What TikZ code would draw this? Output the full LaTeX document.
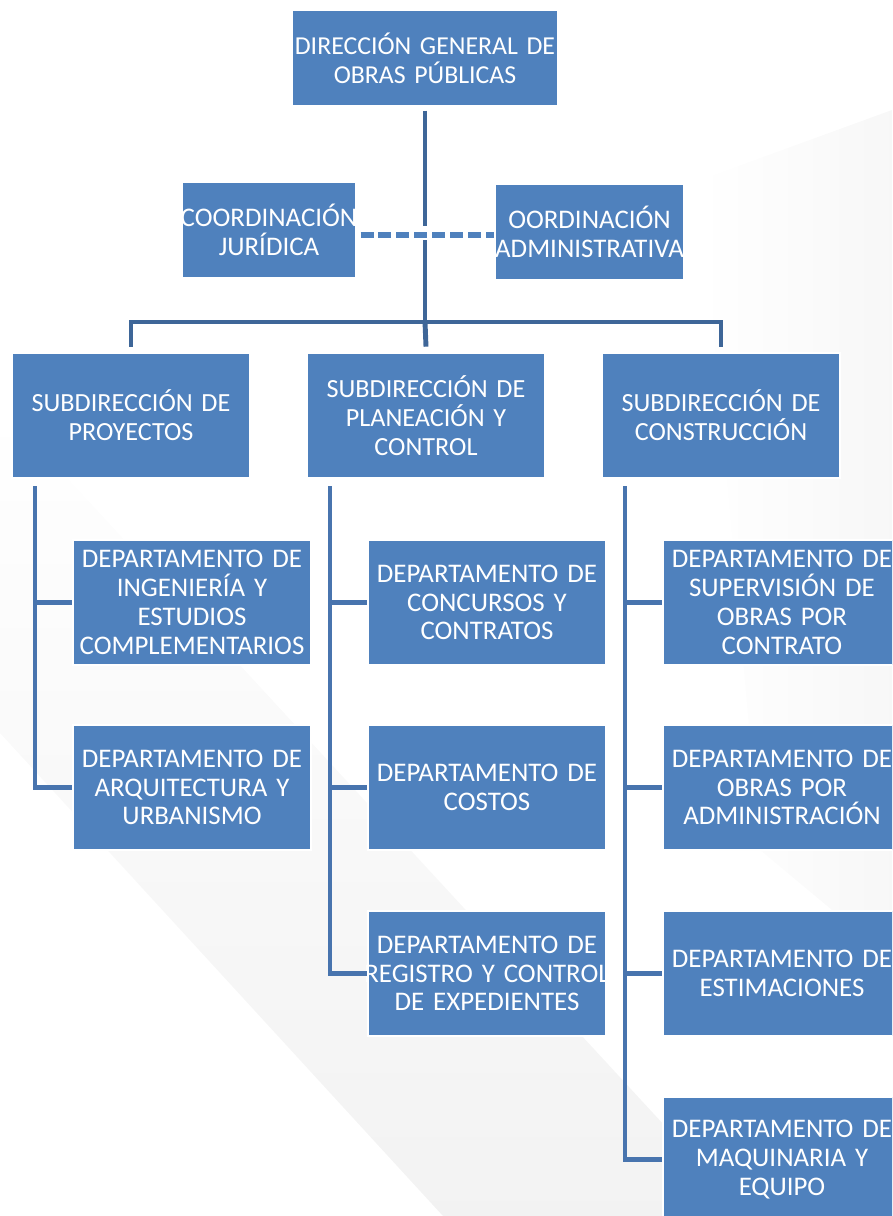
\documentclass[tikz,border=0pt]{standalone}
\usepackage{fontspec}
\setmainfont{Carlito}
\definecolor{boxblue}{RGB}{79,129,189}
\definecolor{lineblue}{RGB}{62,102,152}
\definecolor{treeblue}{RGB}{72,116,174}

\begin{document}
\begin{tikzpicture}[x=0.02cm, y=-0.02cm,
    unit/.style={draw=white, line width=1.2pt, fill=boxblue, text=white, align=center,
        inner ysep=0pt, inner xsep=-0.3cm, font=\fontsize{15.3}{16.4}\selectfont},
    headbox/.style={unit, minimum width=5.32cm, text width=5.92cm, minimum height=1.92cm,
        font=\fontsize{14.7}{16.4}\selectfont},
    coordbox/.style={unit, minimum height=1.92cm},
    subbox/.style={unit, minimum width=4.76cm, text width=5.36cm, minimum height=2.5cm,
        font=\fontsize{14.9}{16.4}\selectfont},
    deptbox/.style={unit, minimum width=4.76cm, text width=5.36cm, minimum height=2.5cm},
    link/.style={lineblue, line width=2.8pt},
    branch/.style={treeblue, line width=2.8pt},
    advice/.style={boxblue, line width=3.2pt, dash pattern=on 7.4pt off 2.8pt}]
    \clip (0,0) rectangle (892,1216);
    % faint background
    \shade [top color=white, bottom color=black!5] (0,733) -- (443,1216) -- (748,1216) -- (0,405) -- cycle;
    \shade [left color=white, right color=black!3] (700,180) -- (892,110) -- (892,960) -- (760,850) -- cycle;

    \node [headbox] (dg) at (425,58) {DIRECCIÓN GENERAL DE\\OBRAS PÚBLICAS};
    \node [coordbox, minimum width=3.48cm, text width=4.08cm] (cj) at (269,230) {COORDINACIÓN\\JURÍDICA};
    \node [coordbox, minimum width=3.78cm, text width=4.38cm] (ca) at (589.5,232) {OORDINACIÓN\\ADMINISTRATIVA};

    \node [subbox] (sp) at (131,415.5) {SUBDIRECCIÓN DE\\PROYECTOS};
    \node [subbox] (spc) at (426,415.5) {SUBDIRECCIÓN DE\\PLANEACIÓN Y\\CONTROL};
    \node [subbox] (sc) at (721,415.5) {SUBDIRECCIÓN DE\\CONSTRUCCIÓN};

    \node [deptbox] (p1) at (192,602.5) {DEPARTAMENTO DE\\INGENIERÍA Y\\ESTUDIOS\\COMPLEMENTARIOS};
    \node [deptbox] (p2) at (192,787.5) {DEPARTAMENTO DE\\ARQUITECTURA Y\\URBANISMO};

    \node [deptbox] (c1) at (487,602.5) {DEPARTAMENTO DE\\CONCURSOS Y\\CONTRATOS};
    \node [deptbox] (c2) at (487,787.5) {DEPARTAMENTO DE\\COSTOS};
    \node [deptbox] (c3) at (487,973.5) {DEPARTAMENTO DE\\REGISTRO Y CONTROL\\DE EXPEDIENTES};

    \node [deptbox] (k1) at (782,602.5) {DEPARTAMENTO DE\\SUPERVISIÓN DE\\OBRAS POR\\CONTRATO};
    \node [deptbox] (k2) at (782,787.5) {DEPARTAMENTO DE\\OBRAS POR\\ADMINISTRACIÓN};
    \node [deptbox] (k3) at (782,973.5) {DEPARTAMENTO DE\\ESTIMACIONES};
    \node [deptbox] (k4) at (782,1159.5) {DEPARTAMENTO DE\\MAQUINARIA Y\\EQUIPO};

    % upper tree
    \coordinate (bar) at (425,322);
    \draw [link] ([yshift=-2pt]dg.south) -- (bar);
    \draw [link] ([yshift=3pt]sp.north) -- (sp.north |- bar) -- (sc.north |- bar) -- ([yshift=3pt]sc.north);
    \draw [link] (bar) -- ([yshift=3pt]spc.north);
    \draw [white, line width=3pt] (425,226) -- (425,240);
    \draw [advice] ([xshift=2pt,yshift=-3pt]cj.east) -- ([yshift=-3pt]cj.east -| ca.west);

    % lower trees
    \coordinate (t1) at (35,486);
    \coordinate (t2) at (330,486);
    \coordinate (t3) at (625,486);
    \draw [branch] (t1) |- (p2.west);
    \draw [branch] (t1 |- p1.west) -- (p1.west);
    \draw [branch] (t2) |- (c3.west);
    \foreach \n in {c1,c2}
        \draw [branch] (t2 |- \n.west) -- (\n.west);
    \draw [branch] (t3) |- (k4.west);
    \foreach \n in {k1,k2,k3}
        \draw [branch] (t3 |- \n.west) -- (\n.west);
\end{tikzpicture}
\end{document}
